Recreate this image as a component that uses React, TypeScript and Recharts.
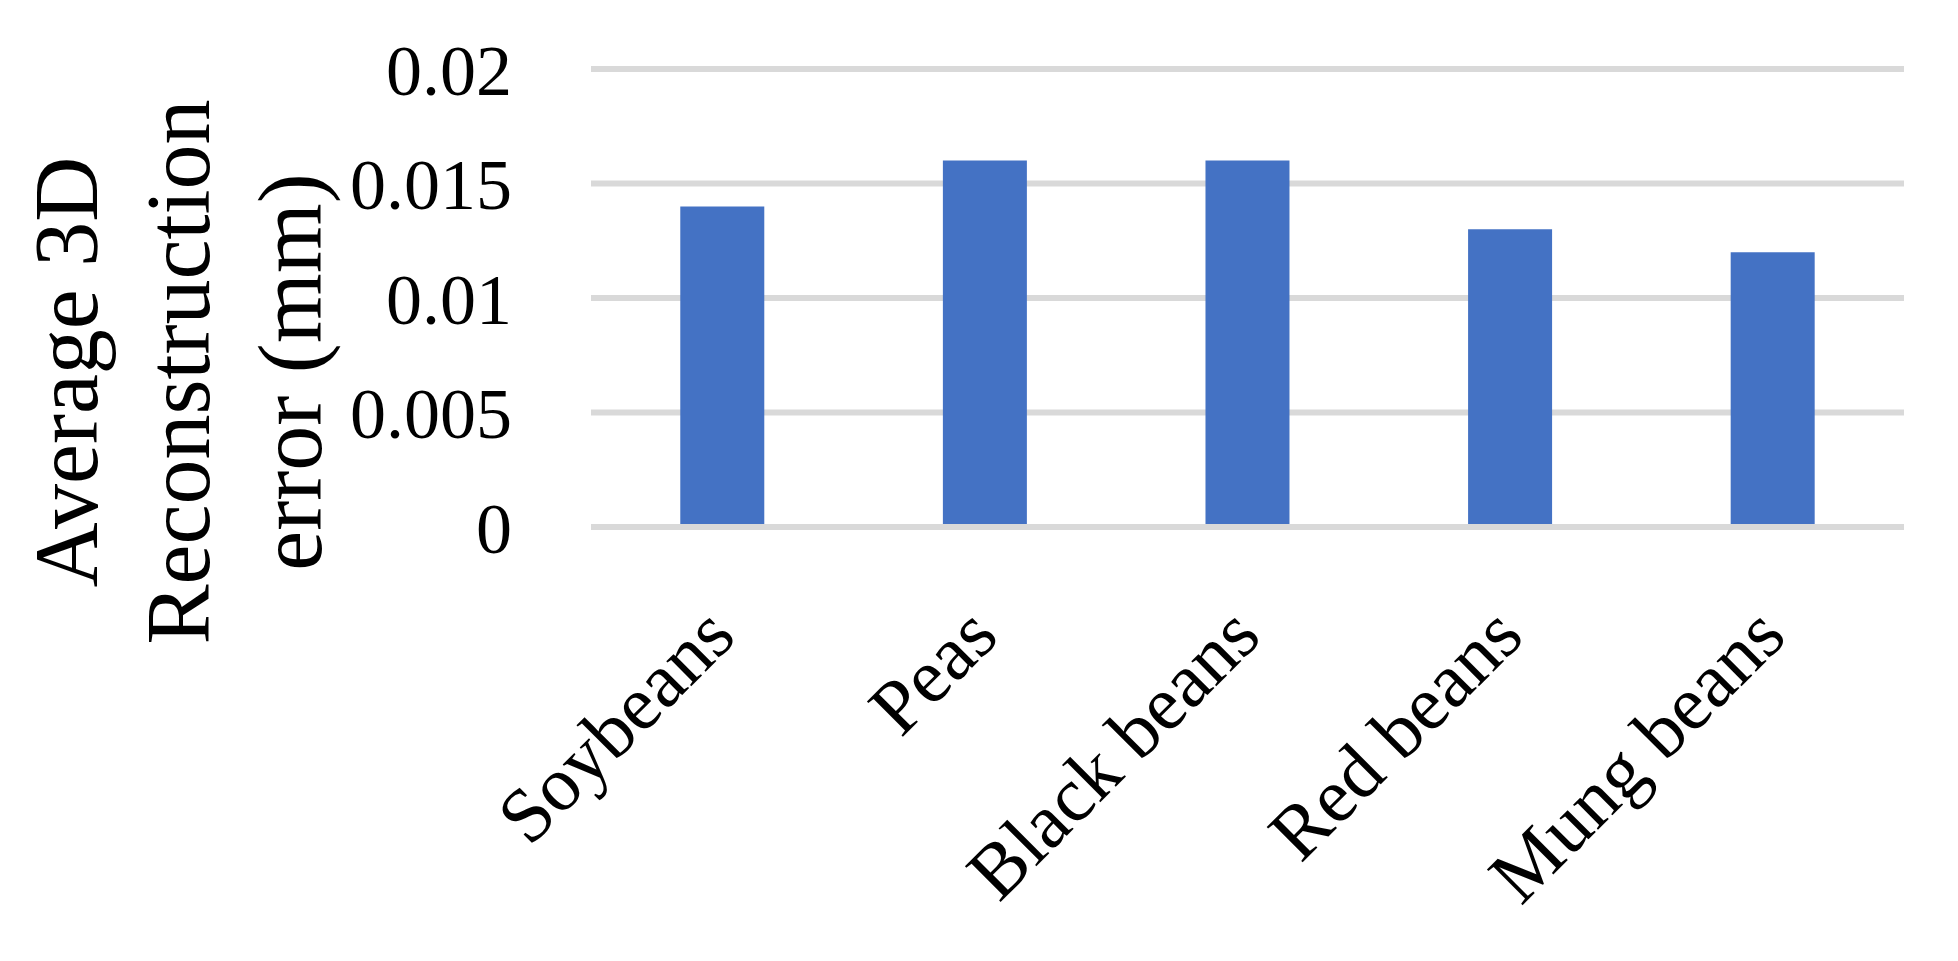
import React from 'react';
import { BarChart, Bar, XAxis, YAxis, CartesianGrid, ReferenceLine } from 'recharts';

const categories = ['Soybeans', 'Peas', 'Black beans', 'Red beans', 'Mung beans'];
const errors = [0.014, 0.016, 0.016, 0.013, 0.012];
const yTicks = [0, 0.005, 0.01, 0.015, 0.02];
const titleLines = ['Average 3D', 'Reconstruction', 'error (mm)'];

const data = categories.map((name, i) => ({ name, value: errors[i] }));

const FONT = '"Liberation Serif", "Times New Roman", serif';

const CategoryTick = (props: any) => {
  const { x, y, payload } = props;
  return (
    <g transform={`translate(${x + 16},${y + 112})`}>
      <text
        x={0}
        y={0}
        textAnchor="end"
        transform="rotate(-45)"
        fontFamily={FONT}
        fontSize={77}
        fill="#000"
      >
        {payload.value}
      </text>
    </g>
  );
};

const YTitle = () => (
  <g>
    {titleLines.map((line, i) => (
      <text
        key={line}
        x={97 + i * 112}
        y={372}
        textAnchor="middle"
        transform={`rotate(-90, ${97 + i * 112}, 372)`}
        fontFamily={FONT}
        fontSize={90}
        fill="#000"
      >
        {line}
      </text>
    ))}
  </g>
);

export default function App() {
  return (
    <div style={{ position: 'absolute', left: 0, top: 0, width: 1958, height: 961, background: '#fff' }}>
      <BarChart
        width={1958}
        height={961}
        data={data}
        margin={{ top: 69, right: 54, bottom: 34, left: 0 }}
        barCategoryGap="34%"
      >
        <CartesianGrid vertical={false} stroke="#d9d9d9" strokeWidth={6} />
        <XAxis
          dataKey="name"
          axisLine={false}
          tickLine={false}
          tickSize={0}
          tickMargin={0}
          height={400}
          interval={0}
          tick={<CategoryTick />}
        />
        <YAxis
          width={591}
          domain={[0, 0.02]}
          ticks={yTicks}
          axisLine={false}
          tickLine={false}
          tickSize={0}
          tickMargin={79}
          tick={{ fontFamily: FONT, fontSize: 72, fill: '#000' }}
          label={<YTitle />}
        />
        <Bar dataKey="value" fill="#4472C4" isAnimationActive={false} />
        <ReferenceLine y={0} stroke="#d9d9d9" strokeWidth={6} />
      </BarChart>
    </div>
  );
}
